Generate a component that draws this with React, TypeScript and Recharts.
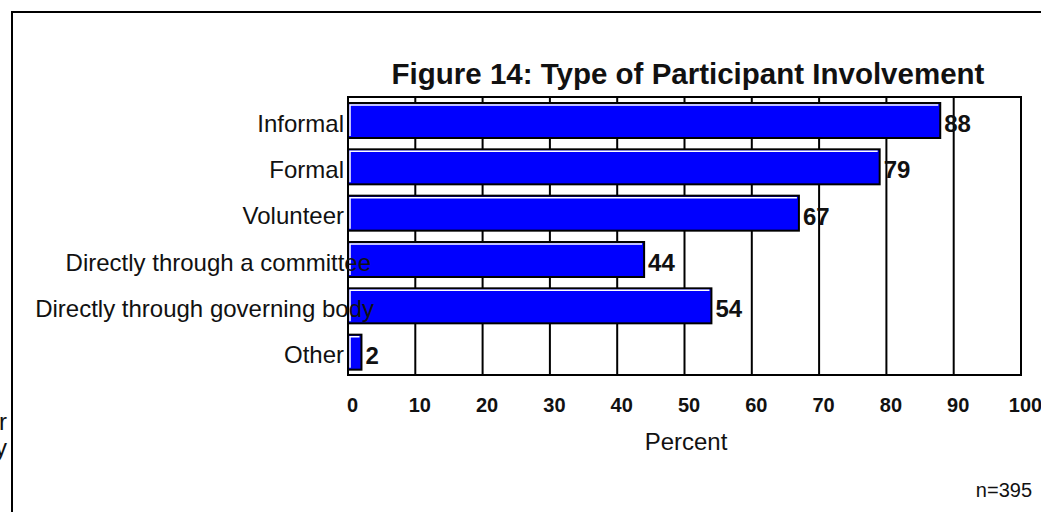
import React from 'react';
import {
  BarChart,
  Bar,
  XAxis,
  YAxis,
  CartesianGrid,
  ReferenceArea,
  LabelList
} from 'recharts';

const categories = [
  'Informal',
  'Formal',
  'Volunteer',
  'Directly through a committee',
  'Directly through governing body',
  'Other'
];
const percents = [88, 79, 67, 44, 54, 2];
const xTicks = [0, 10, 20, 30, 40, 50, 60, 70, 80, 90, 100];

const FONT = '"Liberation Sans", Arial, Helvetica, sans-serif';

// the two long labels spill over the axis line in the original
const labelShift: Record<string, number> = {
  'Directly through a committee': 27,
  'Directly through governing body': 30
};

const CategoryTick = (props: any) => {
  const { x, y, payload } = props;
  const shift = labelShift[payload.value] ?? 0;
  return (
    <text
      x={x + shift}
      y={y}
      dy={11.5}
      textAnchor="end"
      fontFamily={FONT}
      fontSize={24}
      fill="#111"
    >
      {payload.value}
    </text>
  );
};

const PercentTick = (props: any) => {
  const { x, y, payload } = props;
  return (
    <text
      x={x + 4.5}
      y={y}
      dy={14}
      textAnchor="middle"
      fontFamily={FONT}
      fontSize={20}
      fontWeight="bold"
      fill="#111"
    >
      {payload.value}
    </text>
  );
};

// flat blue bar with black outline and a white highlight on top/left edges
const BevelBar = (props: any) => {
  const { x, y, width, height } = props;
  if (!width || width <= 0) return null;
  return (
    <g>
      <rect
        x={x}
        y={y}
        width={width}
        height={height}
        fill="#0000ff"
        stroke="#000"
        strokeWidth={2}
      />
      <path
        d={`M${x + 2},${y + height - 2} V${y + 2} H${x + width - 2}`}
        stroke="#fff"
        strokeWidth={1.5}
        fill="none"
      />
    </g>
  );
};

const ValueLabel = (props: any) => {
  const { x, y, width, height, value } = props;
  return (
    <text
      x={x + width + 4}
      y={y + height / 2 + 11.5}
      fontFamily={FONT}
      fontSize={24}
      fontWeight="bold"
      fill="#111"
    >
      {value}
    </text>
  );
};

export default function App() {
  const data = categories.map((name, i) => ({ name, value: percents[i] }));

  return (
    <div
      style={{
        position: 'absolute',
        left: 0,
        top: 0,
        width: 1041,
        height: 512,
        background: '#fff',
        overflow: 'hidden'
      }}
    >
      <BarChart
        width={1041}
        height={512}
        data={data}
        layout="vertical"
        margin={{ top: 97, right: 20, left: 8, bottom: 97 }}
        barSize={35}
      >
        <CartesianGrid horizontal={false} stroke="#000" strokeWidth={2} />
        <XAxis
          type="number"
          domain={[0, 100]}
          ticks={xTicks}
          interval={0}
          axisLine={false}
          tickLine={false}
          tickSize={0}
          tickMargin={23}
          height={40}
          tick={<PercentTick />}
        />
        <YAxis
          type="category"
          dataKey="name"
          width={340}
          interval={0}
          axisLine={false}
          tickLine={false}
          tickSize={0}
          tickMargin={4}
          tick={<CategoryTick />}
        />
        <ReferenceArea
          x1={0}
          x2={100}
          fill="none"
          fillOpacity={0}
          stroke="#000"
          strokeWidth={2}
          ifOverflow="visible"
        />
        <Bar dataKey="value" shape={<BevelBar />} isAnimationActive={false}>
          <LabelList dataKey="value" content={<ValueLabel />} />
        </Bar>
      </BarChart>

      <svg
        width={1041}
        height={512}
        style={{ position: 'absolute', left: 0, top: 0, pointerEvents: 'none' }}
      >
        <rect x={12} y={12} width={1040} height={510} fill="none" stroke="#000" strokeWidth={2} />
        <text
          x={688}
          y={84}
          textAnchor="middle"
          fontFamily={FONT}
          fontSize={29.5}
          fontWeight="bold"
          fill="#111"
        >
          Figure 14: Type of Participant Involvement
        </text>
        <text x={686} y={450} textAnchor="middle" fontFamily={FONT} fontSize={24} fill="#111">
          Percent
        </text>
        <text x={1032} y={497} textAnchor="end" fontFamily={FONT} fontSize={20} fill="#111">
          n=395
        </text>
        {/* edge of a neighbouring text box, clipped by the page edge in the original */}
        <text x={7} y={430} textAnchor="end" fontFamily={FONT} fontSize={24} fill="#111">
          r
        </text>
        <text x={7} y={456} textAnchor="end" fontFamily={FONT} fontSize={24} fill="#111">
          y
        </text>
      </svg>
    </div>
  );
}
